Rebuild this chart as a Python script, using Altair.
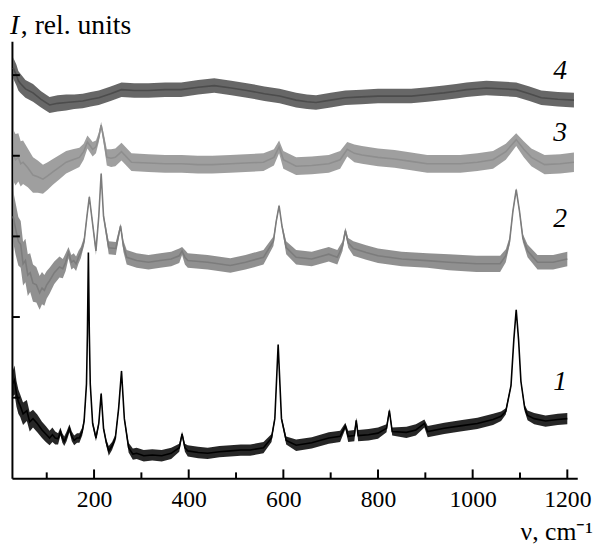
import altair as alt
import pandas as pd

# ---- spectrum 1 (black) ----
x1 = [28, 32, 36, 40, 44, 50, 58, 64, 71, 80, 90, 98, 106, 112, 118, 124, 129, 133, 137, 142, 148, 153, 158, 164, 169, 175, 179, 184, 186, 188, 190, 192, 197,
      204, 210, 215, 220, 226, 231, 238, 245, 252, 258, 264, 273, 282, 290, 305, 323, 343, 363, 380, 386, 392, 398, 420, 440, 465, 488, 510, 530,
      558, 575, 582, 589, 596, 606, 627, 660, 696, 720, 731, 737, 750, 754, 758, 780, 800, 818, 824, 830, 860,
      880, 898, 905, 940, 974, 1010, 1043, 1060, 1070, 1081, 1087, 1092, 1097, 1102, 1110, 1116, 1130, 1154, 1180, 1200]
y1 = [1.17, 1.22, 1.05, 0.95, 0.90, 0.80, 0.84, 0.70, 0.74, 0.68, 0.60, 0.55, 0.50, 0.54, 0.50, 0.49, 0.58, 0.50, 0.46, 0.52, 0.62, 0.52, 0.47, 0.50, 0.50, 0.58, 0.71, 1.17, 1.80, 2.80, 1.80, 1.17, 0.68,
      0.50, 0.68, 1.05, 0.62, 0.44, 0.34, 0.40, 0.50, 0.87, 1.33, 0.74, 0.38, 0.30, 0.31, 0.28, 0.29, 0.28, 0.31, 0.38, 0.55, 0.38, 0.34, 0.32, 0.31, 0.33, 0.34, 0.35, 0.35,
      0.38, 0.50, 0.74, 1.66, 0.74, 0.47, 0.41, 0.44, 0.50, 0.52, 0.65, 0.52, 0.53, 0.72, 0.53, 0.54, 0.56, 0.62, 0.84, 0.58, 0.57,
      0.60, 0.68, 0.58, 0.62, 0.65, 0.68, 0.73, 0.77, 0.83, 1.15, 1.72, 2.09, 1.72, 1.20, 0.87, 0.78, 0.74, 0.71, 0.73, 0.74]
n1 = [0.16, 0.18, 0.16, 0.15, 0.14, 0.14, 0.13, 0.12, 0.11, 0.11, 0.10, 0.10, 0.09, 0.09, 0.08, 0.07, 0.05, 0.06, 0.06, 0.06, 0.05, 0.06, 0.06, 0.06, 0.06, 0.05, 0.04, 0.02, 0.01, 0.01, 0.01, 0.02, 0.03,
      0.04, 0.03, 0.02, 0.03, 0.04, 0.06, 0.05, 0.04, 0.03, 0.02, 0.03, 0.06, 0.07, 0.07, 0.07, 0.07, 0.07, 0.07, 0.05, 0.03, 0.05, 0.07, 0.07, 0.07, 0.07, 0.07, 0.07, 0.07,
      0.07, 0.05, 0.03, 0.01, 0.03, 0.05, 0.07, 0.07, 0.07, 0.07, 0.04, 0.07, 0.07, 0.03, 0.07, 0.07, 0.07, 0.05, 0.03, 0.05, 0.07,
      0.07, 0.05, 0.07, 0.07, 0.07, 0.07, 0.07, 0.06, 0.04, 0.02, 0.01, 0.01, 0.01, 0.02, 0.04, 0.06, 0.07, 0.07, 0.07, 0.07]

# ---- spectrum 2 ----
x2 = [29, 34, 40, 45, 50, 55, 60, 65, 71, 78, 85, 90, 95, 100, 106, 116, 127, 134, 140, 146, 152, 157, 162, 167, 172, 179, 185, 190, 195, 204, 210,
      215, 220, 231, 246, 256, 262, 269, 290, 315, 340, 363, 380, 386, 392, 398, 440, 488, 520, 558, 579, 585, 591, 597, 606,
      627, 660, 696, 714, 725, 731, 737, 748, 775, 800, 850, 904, 950, 1008, 1040, 1058, 1070, 1078, 1085, 1092, 1099, 1106, 1116, 1137,
      1170, 1200]
y2 = [3.25, 3.10, 2.94, 2.90, 2.66, 2.70, 2.52, 2.55, 2.42, 2.40, 2.30, 2.36, 2.33, 2.40, 2.45, 2.55, 2.62, 2.60, 2.68, 2.80, 2.68, 2.70, 2.66, 2.74, 2.80, 2.94, 3.25, 3.49, 3.25, 2.82, 3.25,
      3.78, 3.25, 2.86, 2.85, 3.13, 2.88, 2.74, 2.70, 2.68, 2.70, 2.72, 2.76, 2.82, 2.74, 2.70, 2.68, 2.64, 2.68, 2.74, 2.94, 3.19, 3.38, 3.13, 2.86,
      2.74, 2.72, 2.78, 2.74, 2.88, 3.07, 2.92, 2.85, 2.80, 2.76, 2.72, 2.70, 2.68, 2.66, 2.66, 2.66, 2.76, 2.94, 3.31, 3.58, 3.31, 2.98, 2.82, 2.68,
      2.68, 2.72]
n2 = [0.32, 0.32, 0.30, 0.29, 0.27, 0.27, 0.26, 0.24, 0.23, 0.22, 0.21, 0.20, 0.19, 0.17, 0.16, 0.14, 0.13, 0.12, 0.11, 0.07, 0.09, 0.09, 0.09, 0.08, 0.07, 0.05, 0.03, 0.02, 0.03, 0.05, 0.03,
      0.02, 0.03, 0.08, 0.08, 0.03, 0.07, 0.09, 0.09, 0.09, 0.09, 0.09, 0.09, 0.05, 0.09, 0.09, 0.09, 0.09, 0.09, 0.09, 0.06, 0.03, 0.02, 0.03, 0.08,
      0.09, 0.09, 0.09, 0.09, 0.06, 0.04, 0.06, 0.09, 0.09, 0.09, 0.09, 0.09, 0.10, 0.10, 0.10, 0.10, 0.08, 0.05, 0.03, 0.02, 0.03, 0.05, 0.08, 0.09,
      0.09, 0.09]

# ---- spectrum 3 ----
x3 = [29, 34, 40, 45, 50, 60, 71, 81, 92, 102, 113, 127, 141, 155, 169, 178, 186, 197, 204, 210, 215, 221, 227, 236, 245, 258, 279, 315, 350, 385, 419,
      450, 488, 520, 558, 580, 591, 600, 627, 660, 696, 720, 735, 750, 766, 800, 835, 870, 904, 940, 974, 1010, 1043, 1070, 1092, 1108, 1124, 1152, 1185, 1214]
y3 = [4.01, 3.95, 3.98, 3.90, 3.92, 3.85, 3.76, 3.74, 3.71, 3.75, 3.80, 3.86, 3.92, 3.95, 3.98, 4.05, 4.17, 4.08, 4.11, 4.23, 4.38, 4.19, 3.98, 3.97, 3.98, 4.05, 3.92, 3.91, 3.90, 3.90, 3.89,
      3.89, 3.90, 3.91, 3.92, 3.98, 4.11, 3.95, 3.87, 3.88, 3.90, 3.95, 4.08, 4.03, 4.01, 3.98, 3.96, 3.93, 3.90, 3.90, 3.90, 3.92, 3.95, 4.05, 4.20, 4.08, 3.98, 3.89, 3.90, 3.92]
n3 = [0.32, 0.32, 0.30, 0.28, 0.27, 0.24, 0.22, 0.20, 0.18, 0.17, 0.16, 0.15, 0.14, 0.13, 0.12, 0.10, 0.08, 0.09, 0.08, 0.06, 0.04, 0.07, 0.10, 0.11, 0.11, 0.11, 0.11, 0.11, 0.11, 0.11, 0.11,
      0.11, 0.11, 0.11, 0.11, 0.10, 0.08, 0.11, 0.11, 0.11, 0.11, 0.11, 0.09, 0.11, 0.11, 0.11, 0.11, 0.11, 0.11, 0.11, 0.11, 0.11, 0.11, 0.10, 0.08, 0.10, 0.11, 0.12, 0.12, 0.12]

# ---- spectrum 4 ----
x4 = [29, 32, 36, 40, 44, 55, 71, 88, 106, 123, 141, 158, 176, 193, 210, 235, 258, 285, 315, 350, 384, 420, 454, 490, 523, 560, 592, 627, 650, 669, 700, 731, 765, 800, 835, 870, 905, 939,
      965, 987, 1010, 1029, 1060, 1092, 1120, 1145, 1180, 1214]
y4 = [5.09, 5.05, 5.00, 4.93, 4.90, 4.83, 4.78, 4.70, 4.63, 4.65, 4.66, 4.67, 4.68, 4.70, 4.72, 4.77, 4.82, 4.81, 4.81, 4.82, 4.82, 4.85, 4.87, 4.84, 4.81, 4.77, 4.74, 4.69, 4.67, 4.66, 4.69, 4.72, 4.73, 4.74, 4.74, 4.74, 4.76, 4.78,
      4.80, 4.82, 4.83, 4.84, 4.83, 4.82, 4.77, 4.72, 4.70, 4.69]
n4 = [0.13, 0.13, 0.13, 0.12, 0.12, 0.11, 0.11, 0.10, 0.10, 0.10, 0.10, 0.09, 0.09, 0.09, 0.09, 0.09, 0.09, 0.09, 0.09, 0.09, 0.09, 0.09, 0.09, 0.09, 0.09, 0.09, 0.09, 0.09, 0.09, 0.09, 0.09, 0.09, 0.09, 0.09, 0.09, 0.09, 0.09, 0.09,
      0.09, 0.09, 0.09, 0.09, 0.09, 0.09, 0.09, 0.09, 0.09, 0.09]

series_names = ["1", "2", "3", "4"]
series_colors = ["#000000", "#7c7c7c", "#8e8e8e", "#4c4c4c"]

major_ticks = [200, 400, 600, 800, 1000, 1200]
minor_ticks = [100, 300, 500, 700, 900, 1100]
y_ticks = [1, 2, 3, 4, 5]

label_x = [1185, 1185, 1185, 1185]
label_y = [1.19, 3.21, 4.28, 5.05]

frames = []
for name, xs, ys, ns in zip(series_names, [x1, x2, x3, x4], [y1, y2, y3, y4], [n1, n2, n3, n4]):
    d = pd.DataFrame({"x": xs, "y": ys, "n": ns})
    d["lo"] = d["y"] - d["n"]
    d["hi"] = d["y"] + d["n"]
    d["s"] = name
    frames.append(d)
df = pd.concat(frames, ignore_index=True)

SERIF = "Liberation Serif, Times New Roman, serif"
W, H = 573, 443
xs_ = alt.Scale(domain=[26.5, 1221], nice=False, zero=False)
ys_ = alt.Scale(domain=[0, 5.42], nice=False, zero=False)
col = alt.Color("s:N", scale=alt.Scale(domain=series_names, range=series_colors), legend=None)

xaxis = alt.Axis(values=major_ticks, format="d", ticks=False, grid=False, title=None, labelFont=SERIF,
                 labelFontSize=24, labelColor="black", labelPadding=10, domainColor="black", domainWidth=2)
yaxis = alt.Axis(ticks=False, labels=False, grid=False, title=None, domainColor="black", domainWidth=2)

band = alt.Chart(df).mark_area(opacity=0.85).encode(
    x=alt.X("x:Q", scale=xs_, axis=xaxis),
    y=alt.Y("lo:Q", scale=ys_, axis=yaxis, stack=None),
    y2="hi:Q",
    color=col,
)
line = alt.Chart(df).mark_line(strokeWidth=1.6).encode(
    x=alt.X("x:Q", scale=xs_),
    y=alt.Y("y:Q", scale=ys_),
    color=col,
)

maj = alt.Chart(pd.DataFrame({"t": major_ticks})).mark_rule(color="black", strokeWidth=2).encode(
    x=alt.X("t:Q", scale=xs_), y=alt.value(H), y2=alt.value(H - 9))
mnr = alt.Chart(pd.DataFrame({"t": minor_ticks})).mark_rule(color="black", strokeWidth=2).encode(
    x=alt.X("t:Q", scale=xs_), y=alt.value(H), y2=alt.value(H - 6))
yt = alt.Chart(pd.DataFrame({"t": y_ticks})).mark_rule(color="black", strokeWidth=2).encode(
    y=alt.Y("t:Q", scale=ys_), x=alt.value(0), x2=alt.value(8))

labels = alt.Chart(pd.DataFrame({"x": label_x, "y": label_y, "t": series_names})).mark_text(
    font=SERIF, fontSize=28, fontStyle="italic", color="black", baseline="middle", align="center"
).encode(x=alt.X("x:Q", scale=xs_), y=alt.Y("y:Q", scale=ys_), text="t:N")

t_I = alt.Chart(pd.DataFrame({"t": ["I"]})).mark_text(
    font=SERIF, fontSize=28, fontStyle="italic", color="black", align="left", baseline="alphabetic"
).encode(x=alt.value(-2), y=alt.value(-7), text="t:N")
t_rest = alt.Chart(pd.DataFrame({"t": [", rel. units"]})).mark_text(
    font=SERIF, fontSize=28, color="black", align="left", baseline="alphabetic"
).encode(x=alt.value(9), y=alt.value(-7), text="t:N")
t_x = alt.Chart(pd.DataFrame({"t": ["ν, cm⁻¹"]})).mark_text(
    font=SERIF, fontSize=26, color="black", align="right", baseline="alphabetic"
).encode(x=alt.value(589), y=alt.value(506), text="t:N")

chart = alt.layer(band, line, maj, mnr, yt, labels, t_I, t_rest, t_x).properties(
    width=W, height=H,
    autosize=alt.AutoSizeParams(type="none"),
    padding={"left": 4, "top": 30, "right": 19, "bottom": 72},
).configure_view(strokeWidth=0)

chart.save("out.html", embed_options={"renderer": "svg", "actions": False})
